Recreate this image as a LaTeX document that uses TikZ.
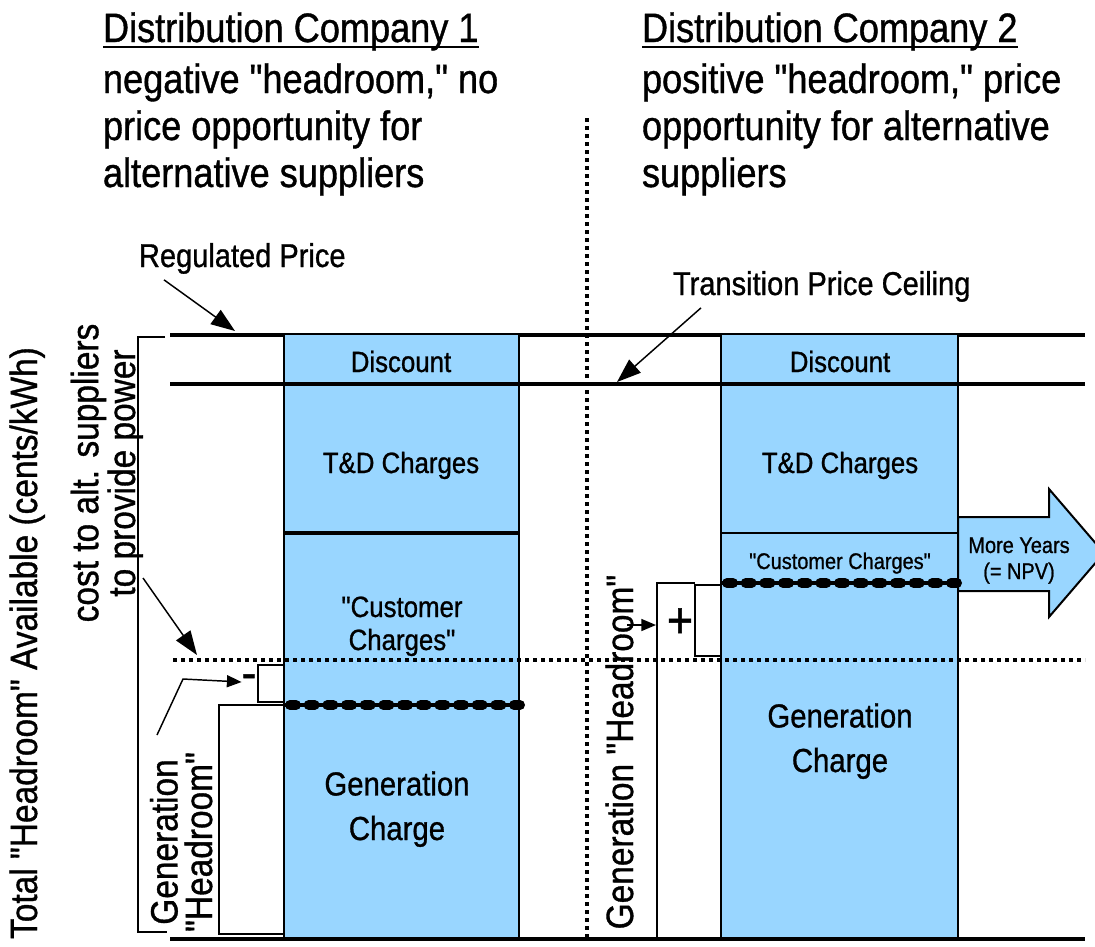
\documentclass[tikz,border=0pt]{standalone}
\usepackage{fontspec}
\setmainfont{Liberation Sans}[FakeStretch=0.88, FakeBold=0.9, Ligatures=TeXOff]
\usetikzlibrary{arrows.meta,calc}
\definecolor{barblue}{RGB}{153,214,255}
\tikzset{
  txt/.style={inner sep=0pt, outer sep=0pt},
  head/.style={txt, font=\fontsize{30.8}{35.25}\selectfont, align=left},
  lbl/.style={txt, font=\fontsize{24.75}{30}\selectfont},
  barlbl/.style={txt, font=\fontsize{22}{24.75}\selectfont, align=center},
  smalllbl/.style={txt, font=\fontsize{17}{19.5}\selectfont, align=center},
  genlbl/.style={txt, font=\fontsize{25}{33.4}\selectfont, align=center},
  rot/.style={txt, font=\fontsize{28.5}{25.9}\selectfont, align=center, rotate=90, anchor=base},
  sign/.style={txt, font=\fontsize{38}{40}\selectfont},
  priceline/.style={line width=2.6pt},
  bar/.style={draw, fill=barblue, line width=1.5pt},
  bracket/.style={line width=1.5pt},
  dotline/.style={line width=2.6pt, dash pattern=on 3pt off 3pt},
  beadbase/.style={line width=2.4pt},
  beads/.style={line width=7.5pt, line cap=round, dash pattern=on 4.5pt off 9.5pt},
  pointer/.style={line width=1.1pt, -{Triangle[length=18pt,width=13pt]}},
  smallpointer/.style={line width=1.1pt, -{Triangle[length=11pt,width=9pt]}},
}
\begin{document}
\begin{tikzpicture}[x=0.75pt, y=-0.75pt]
\useasboundingbox (0,0) rectangle (1095,946);
\clip (0,0) rectangle (1095,946);

% headings (multi-line nodes are placed by the baseline of their last line)
\node[head, anchor=base west] (h1) at (103,42) {Distribution Company 1};
\draw[line width=2.2pt] ($(h1.base west)+(0,5)$) -- ($(h1.base east)+(0,5)$);
\node[head, anchor=base west] (s1) at (103,187) {negative "headroom," no\\price opportunity for\\alternative suppliers};
\node[head, anchor=base west] (h2) at (642,42) {Distribution Company 2};
\draw[line width=2.2pt] ($(h2.base west)+(0,5)$) -- ($(h2.base east)+(0,5)$);
\node[head, anchor=base west] (s2) at (642,187) {positive "headroom," price\\opportunity for alternative\\suppliers};

% price levels
\coordinate (regL) at (170,335);  \coordinate (regR) at (1085,335);
\coordinate (tpcL) at (170,384);  \coordinate (tpcR) at (1085,384);
\coordinate (dotL) at (173,660);  \coordinate (dotR) at (1085,660);
\coordinate (botL) at (170,939);  \coordinate (botR) at (1085,939);
\draw[priceline] (regL) -- (regR);

% company 1 stack
\draw[bar] (284,334) rectangle (519,939);
\draw[line width=2.6pt] (284,533) -- (519,533);
% company 2 stack
\draw[bar] (721,334) rectangle (958,939);
\draw[line width=1.5pt] (721,533) -- (958,533);

% more years arrow
\draw[fill=barblue, line width=1.5pt, line join=miter]
  (958,517) -- (1049,517) -- (1049,489) -- (1104,553) -- (1049,617) -- (1049,591) -- (958,591) -- cycle;

\draw[priceline] (tpcL) -- (tpcR);
\draw[dotline] (dotL) -- (dotR);
\draw[dotline] (587,118) -- (587,940);

% generation price levels
\draw[beadbase] (284,705) -- (520,705);
\draw[beads] (290,705) -- (522,705);
\draw[beadbase] (721,583) -- (961,583);
\draw[beads] (727,583) -- (963,583);

\draw[line width=3pt] (botL) -- (botR);

% brackets
\draw[bracket] (165,337) -- (138,337) -- (138,932) -- (167,932);
\draw[bracket] (285,665) -- (258,665) -- (258,702) -- (285,702);
\draw[bracket] (285,705) -- (219,705) -- (219,934) -- (285,934);
\draw[bracket] (721,585) -- (695,585) -- (695,656) -- (721,656);
\draw[bracket] (695,583) -- (657,583) -- (657,938);

% labels in the stacks
\node[barlbl, anchor=base] (d1) at (401,372) {Discount};
\node[barlbl, anchor=base] (td1) at (401,473) {T\&D Charges};
\node[barlbl, anchor=base] (cc1) at (402,650) {"Customer\\Charges"};
\node[genlbl, anchor=base] (g1) at (397,840) {Generation\\Charge};
\node[barlbl, anchor=base] (d2) at (840,372) {Discount};
\node[barlbl, anchor=base] (td2) at (840,473) {T\&D Charges};
\node[smalllbl, anchor=base] (cc2) at (840,569) {"Customer Charges"};
\node[genlbl, anchor=base] (g2) at (840,772) {Generation\\Charge};
\node[smalllbl, anchor=base] (my) at (1019,579) {More Years\\(= NPV)};

% callouts
\node[lbl, anchor=base west] (rp) at (139,267) {Regulated Price};
\coordinate (rpT) at (235,331);
\draw[pointer] ($(rp.south west)+(25,6)$) -- (rpT);
\node[lbl, anchor=base west] (tp) at (673,295) {Transition Price Ceiling};
\coordinate (tpT) at (617,382);
\draw[pointer] ($(tp.south west)+(28,6)$) -- (tpT);

\node[rot] (total) at (37,643) {Total "Headroom" Available (cents/kWh)};
\node[rot] (cost) at (135,473) {cost to alt. suppliers\\to provide power};
\coordinate (costT) at (197,655);
\draw[pointer] (143,578) -- (costT);

\node[rot] (lgh) at (212,842) {Generation\\"Headroom"};
\node[sign] (minus) at (249,682) {-};
\coordinate (lghA) at (157,735);
\draw[smallpointer] (lghA) -- (183,679) -- (minus.west);

\node[rot] (rgh) at (633,752) {Generation "Headroom"};
\node[sign] (plus) at (680,623) {+};
\draw[smallpointer] (627,625) -- (656,625);
\end{tikzpicture}
\end{document}
